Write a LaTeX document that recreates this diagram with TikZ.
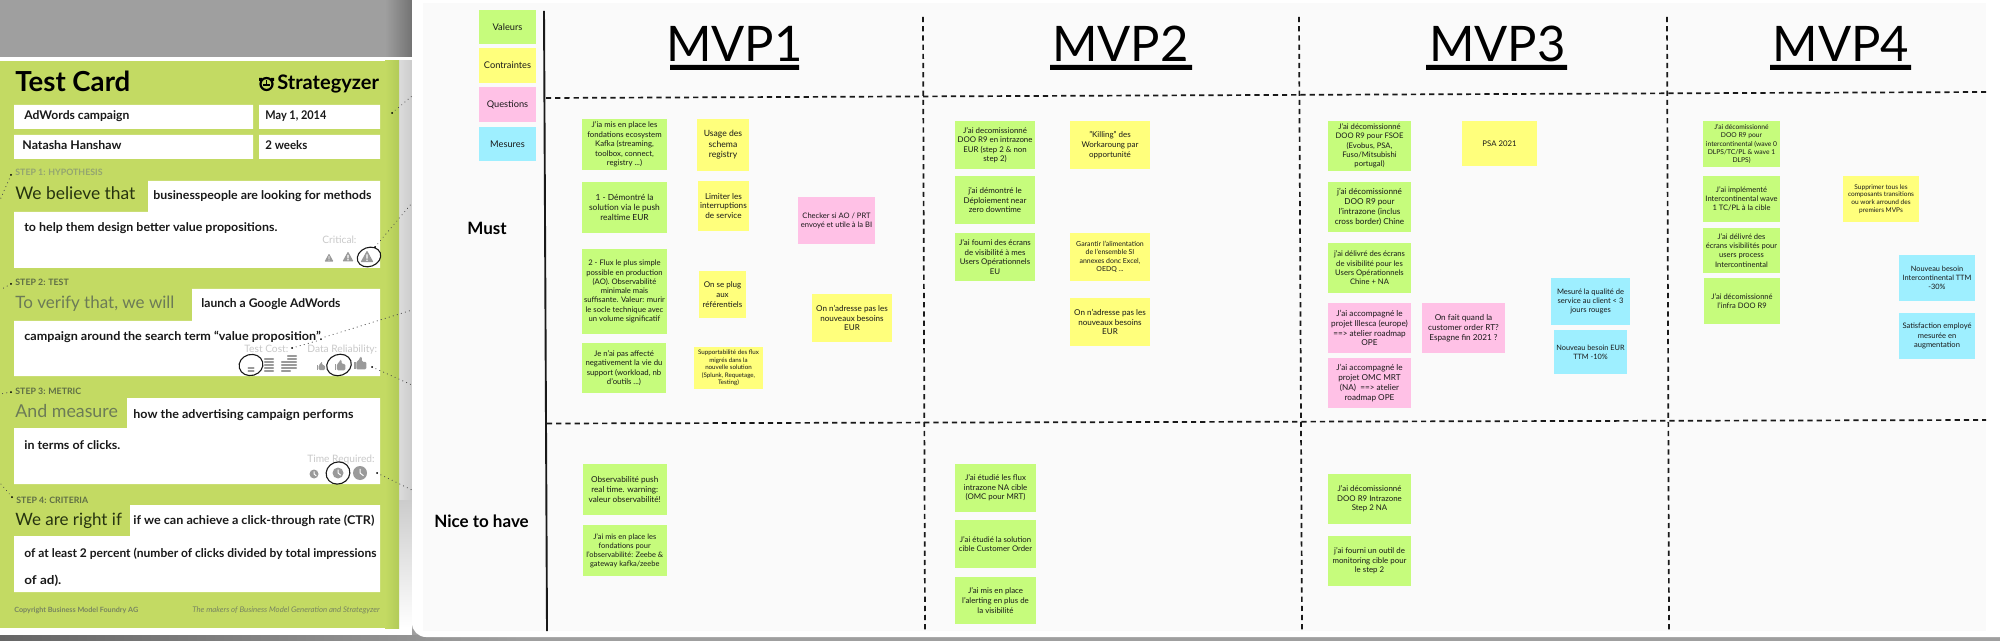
\documentclass[tikz,border=0pt]{standalone}
\usepackage{fontspec}
\usepackage{graphicx}
\setmainfont{Lato}
\usetikzlibrary{shapes.geometric,calc}
\definecolor{cardgreen}{HTML}{C3DA63}
\definecolor{cardedge}{HTML}{B2CB58}
\definecolor{bggrey}{HTML}{9F9F9F}
\definecolor{panel}{HTML}{FAFAFA}
\definecolor{gnotec}{HTML}{C6FC7C}
\definecolor{ynotec}{HTML}{FFFF7C}
\definecolor{pnotec}{HTML}{FFC1E6}
\definecolor{bnotec}{HTML}{9EEFFF}
\definecolor{iconc}{HTML}{9A9A9A}
\definecolor{lightlabel}{HTML}{C9C9C9}
\definecolor{headdark}{HTML}{26330F}
\definecolor{headsoft}{HTML}{6C7B56}
\definecolor{stepsoft}{HTML}{93A470}
\definecolor{stepdark}{HTML}{5F6E45}
\tikzset{
  notebase/.style={inner sep=0pt,outer sep=0pt,align=center,text=black!90},
  gnote/.style={notebase,fill=gnotec},
  ynote/.style={notebase,fill=ynotec},
  pnote/.style={notebase,fill=pnotec},
  bnote/.style={notebase,fill=bnotec},
  handtext/.style={anchor=base west,inner sep=0pt,text=black!90,font=\fontsize{6pt}{7pt}\selectfont\bfseries},
  stepname/.style={anchor=base west,inner sep=0pt,font=\fontsize{4.4pt}{5pt}\selectfont\bfseries},
  headtext/.style={anchor=base west,inner sep=0pt},
  smalllabel/.style={anchor=base west,inner sep=0pt,text=lightlabel,font=\fontsize{5.1pt}{6pt}\selectfont},
  title/.style={anchor=base,inner sep=0pt,text=black,font=\fontsize{24.5pt}{28pt}\selectfont},
  rowlabel/.style={inner sep=0pt,text=black,font=\fontsize{8.5pt}{10pt}\selectfont\bfseries},
  whitebox/.style={fill=white},
  dots/.style={draw=black!70,line width=0.5pt,line cap=round,dash pattern=on 0.1pt off 2pt},
  gridline/.style={draw=black!90,line width=0.85pt,dash pattern=on 2.6pt off 2pt},
  handring/.style={draw=black!90,line width=0.55pt},
}
\newcommand{\sticky}[8]{%
  \pgfmathsetlengthmacro{\stw}{(#5-#3)*0.5}%
  \pgfmathsetlengthmacro{\sth}{(#6-#4)*0.5}%
  \pgfmathsetlengthmacro{\stf}{#7*1.05}%
  \pgfmathsetlengthmacro{\stp}{#7*1.27}%
  \node[#1,minimum width=\stw,minimum height=\sth,font=\fontsize{\stf}{\stp}\selectfont]
    (#2) at ({(#3+#5)/2},{(#4+#6)/2}) {#8};}
\newcommand{\handnode}[5]{%
  \node[handtext] (#1) at (#2,#3) {\resizebox{\dimexpr #4pt/2\relax}{\height}{#5}};}
\newcommand{\warnicon}[3]{\begin{scope}[shift={(#1,#2)},scale=#3]
  \fill[iconc,rounded corners=0.4pt] (-5,4) -- (0,-5) -- (5,4) -- cycle;
  \fill[white] (-0.5,-2) rectangle (0.5,1.2) (-0.5,2) rectangle (0.5,3);
\end{scope}}
\newcommand{\coinicon}[4]{\begin{scope}[shift={(#1,#2)}]
  \foreach \cy in {1,...,#3}{
    \fill[iconc,rounded corners=0.3pt] (-#4,{-\cy*3+1.8}) rectangle (#4,{-\cy*3+0.2});
  }
\end{scope}}
\newcommand{\thumbicon}[3]{\begin{scope}[shift={(#1,#2)},scale=#3]
  \fill[iconc] (-5,-1) rectangle (-3.4,5);
  \fill[iconc,rounded corners=0.6pt] (-3,-1) -- (-1,-2) -- (0,-5) -- (1.5,-5) -- (1.5,-1) -- (5,-1) -- (5,5) -- (-3,5) -- cycle;
\end{scope}}
\newcommand{\clockicon}[3]{\begin{scope}[shift={(#1,#2)}]
  \fill[iconc] (0,0) circle (#3);
  \draw[white,line width=0.5pt] (0,{-#3*0.6}) -- (0,0) -- ({#3*0.5},{#3*0.4});
\end{scope}}
\begin{document}
\begin{tikzpicture}[x=0.5pt,y=-0.5pt]
\useasboundingbox (0,0) rectangle (2000,641);
% backdrop
\fill[bggrey] (0,0) rectangle (2000,641);
\fill[white] (0,57) rectangle (412,635);
\shade[left color=bggrey,right color=black!55] (385,0) rectangle (412,57);
\shade[left color=black!60,right color=bggrey] (0,635) rectangle (520,641);
\shade[left color=black!14,right color=black!20] (399,61) rectangle (412,500);
\shade[top color=black!20,bottom color=white] (399,500) rectangle (412,628);
% test card
\fill[cardgreen] (0,61) rectangle (399,628);
\shade[left color=cardgreen,right color=cardedge] (385,61) rectangle (399,628);
\node[anchor=base west,inner sep=0pt,text=black,font=\fontsize{13.8pt}{16pt}\selectfont\bfseries] (cardtitle) at (15,92) {Test Card};
\node[anchor=base west,inner sep=0pt,text=black,font=\fontsize{10pt}{12pt}\selectfont\bfseries] (brand) at (277,90) {Strategyzer};
\draw[black,line width=1.1pt] (266.5,84) circle (6);
\fill[black] (259,78) rectangle (262,81) (271,78) rectangle (274,81);
\draw[black,line width=0.6pt] (266.5,80) -- (266.5,84) (263,85) -- (270,85);
% header fields
\fill[whitebox] (14,105) rectangle (253,129) (259,105) rectangle (380,129);
\fill[whitebox] (14,135) rectangle (253,159) (259,135) rectangle (380,159);
\handnode{f1}{24}{120}{105}{AdWords campaign}
\handnode{f2}{265}{120}{61}{May 1, 2014}
\handnode{f3}{22}{150}{99}{Natasha Hanshaw}
\handnode{f4}{265}{150}{42}{2 weeks}
% step 1
\node[stepname,text=stepsoft] (s1) at (15,176) {STEP 1: HYPOTHESIS};
\node[headtext,text=headdark,font=\fontsize{8.7pt}{11pt}\selectfont] (h1) at (15,200) {We believe that};
\fill[whitebox] (148,181) -- (380,181) -- (380,268) -- (14,268) -- (14,212) -- (148,212) -- cycle;
\handnode{t1a}{153}{200}{218}{businesspeople are looking for methods}
\handnode{t1b}{24}{232}{253}{to help them design better value propositions.}
\node[smalllabel] (crit) at (322,244) {Critical:};
\warnicon{329}{258}{0.9}
\warnicon{348}{257}{1.1}
\warnicon{367}{257}{1.3}
\draw[handring,rotate around={20:(369,257)}] (369,257) ellipse (12 and 9.5);
% step 2
\node[stepname,text=stepdark] (s2) at (15,286) {STEP 2: TEST};
\node[headtext,text=headsoft,font=\fontsize{8.5pt}{11pt}\selectfont] (h2) at (15,309) {To verify that, we will};
\fill[whitebox] (192,289) -- (380,289) -- (380,376) -- (14,376) -- (14,321) -- (192,321) -- cycle;
\handnode{t2a}{201}{308}{139}{launch a Google AdWords}
\handnode{t2b}{24}{341}{298}{campaign around the search term “value proposition”.}
\node[smalllabel] (cost) at (244,352) {Test Cost:};
\node[smalllabel] (rel) at (307,352) {Data Reliability:};
\coinicon{251}{373}{2}{3.5}
\coinicon{269}{373}{5}{5}
\coinicon{286}{373}{4}{5}
\coinicon{292}{370}{5}{5}
\draw[handring,rotate around={15:(251,365)}] (251,365) ellipse (12 and 10.5);
\thumbicon{321}{366}{0.8}
\thumbicon{340}{365}{1.05}
\thumbicon{360}{363}{1.25}
\draw[handring,rotate around={20:(339,365)}] (339,365) ellipse (12.5 and 10.5);
% step 3
\node[stepname,text=stepdark] (s3) at (15,394) {STEP 3: METRIC};
\node[headtext,text=headsoft,font=\fontsize{8.9pt}{11pt}\selectfont] (h3) at (15,417) {And measure};
\fill[whitebox] (127,398) -- (380,398) -- (380,484) -- (14,484) -- (14,428) -- (127,428) -- cycle;
\handnode{t3a}{133}{418}{220}{how the advertising campaign performs}
\handnode{t3b}{24}{449}{96}{in terms of clicks.}
\node[smalllabel] (timelab) at (307,462) {Time Required:};
\clockicon{314}{474}{4.5}
\clockicon{338}{473}{5.5}
\clockicon{360}{473}{7}
\draw[handring,rotate around={20:(338,473)}] (338,473) ellipse (12 and 11);
% step 4
\node[stepname,text=stepdark] (s4) at (16,503) {STEP 4: CRITERIA};
\node[headtext,text=headdark,font=\fontsize{8.5pt}{11pt}\selectfont] (h4) at (15,525) {We are right if};
\fill[whitebox] (130,505) -- (380,505) -- (380,592) -- (14,592) -- (14,536) -- (130,536) -- cycle;
\handnode{t4a}{133}{524}{241}{if we can achieve a click-through rate (CTR)}
\handnode{t4b}{24}{557}{352}{of at least 2 percent (number of clicks divided by total impressions}
\handnode{t4c}{24}{584}{37}{of ad).}
\node[anchor=base west,inner sep=0pt,text=stepdark!85,font=\fontsize{3.6pt}{4pt}\selectfont\bfseries] (copy) at (14,612) {Copyright Business Model Foundry AG};
\node[anchor=base east,inner sep=0pt,text=stepdark!85,font=\fontsize{3.9pt}{5pt}\selectfont\itshape] (makers) at (380,612) {The makers of Business Model Generation and Strategyzer};
% dotted leaders
\coordinate (d1a) at (11,175); \coordinate (d1b) at (0,200);
\coordinate (d2a) at (11,284); \coordinate (d2b) at (0,290);
\coordinate (d3a) at (11,392); \coordinate (d3b) at (0,394);
\coordinate (d4a) at (12,497); \coordinate (d4b) at (0,483);
\coordinate (d5a) at (392,113); \coordinate (d5b) at (412,96);
\coordinate (d6a) at (375,247); \coordinate (d6b) at (412,203);
\coordinate (d7a) at (325,337); \coordinate (d7b) at (412,310);
\coordinate (d8a) at (292,348); \coordinate (d8b) at (320,340);
\coordinate (d9a) at (372,367); \coordinate (d9b) at (412,385);
\coordinate (d10a) at (377,473); \coordinate (d10b) at (412,490);
\foreach \k in {1,...,10}{
  \draw[dots] (d\k a) -- (d\k b);
}
\foreach \k in {1,2,3,4,5,6,8,9,10}{
  \fill[black] (d\k a) circle (1);
}
% board
\fill[white,rounded corners=7pt] (412,-20) rectangle (2030,637);
\fill[white] (412,-20) rectangle (2000,600);
\fill[panel] (423,3) rectangle (1986,631);
\draw[black!90,line width=0.95pt] (544,11) -- (547,631);
% titles
\node[title] (mvp1) at (734.5,62) {MVP1};
\node[title] (mvp2) at (1120.5,62) {MVP2};
\node[title] (mvp3) at (1497.5,62) {MVP3};
\node[title] (mvp4) at (1841,62) {MVP4};
\fill[black] (670,65) rectangle (799,70) (1050,65) rectangle (1192,70) (1426,65) rectangle (1567,70) (1770,65) rectangle (1911,70);
% grid
\coordinate (hl1) at (546,98); \coordinate (hr1) at (1986,92);
\coordinate (hl2) at (547,423.5); \coordinate (hr2) at (1986,420);
\coordinate (v1t) at (923,17); \coordinate (v1b) at (925,631);
\coordinate (v2t) at (1299,17); \coordinate (v2b) at (1302,631);
\coordinate (v3t) at (1667,17); \coordinate (v3b) at (1669,631);
\draw[gridline] (hl1) -- (hr1);
\draw[gridline] (hl2) -- (hr2);
\draw[gridline] (v1t) -- (v1b);
\draw[gridline] (v2t) -- (v2b);
\draw[gridline] (v3t) -- (v3b);
\node[rowlabel] (must) at (487,228) {Must};
\node[rowlabel] (nice) at (481.5,521) {Nice to have};
% legend
\sticky{gnote}{lg}{479}{10}{536}{44}{4.4}{Valeurs}
\sticky{ynote}{ly}{479}{48}{536}{83}{4.4}{Contraintes}
\sticky{pnote}{lp}{479}{87}{536}{122}{4.4}{Questions}
\sticky{bnote}{lb}{479}{127}{536}{161}{4.4}{Mesures}
% MVP1
\sticky{gnote}{a1}{582}{119}{667}{170}{3.7}{J'ia mis en place les\\fondations ecosystem\\Kafka (streaming,\\toolbox, connect,\\registry ...)}
\sticky{gnote}{a2}{582}{182}{667}{233}{4}{1 - Démontré la\\solution via le push\\realtime EUR}
\sticky{gnote}{a3}{582}{249}{667}{334}{3.65}{2 - Flux le plus simple\\possible en production\\(AO). Observabilité\\minimale mais\\suffisante. Valeur: murir\\le socle technique avec\\un volume significatif}
\sticky{gnote}{a4}{582}{343}{666}{393}{3.7}{Je n'ai pas affecté\\negativement la vie du\\support (workload, nb\\d'outils ...)}
\sticky{ynote}{a5}{697}{119}{749}{171}{4.1}{Usage des\\schema\\registry}
\sticky{ynote}{a6}{698}{181}{749}{231}{3.9}{Limiter les\\interruptions\\de service}
\sticky{ynote}{a7}{699}{271}{746}{318}{3.8}{On se plug\\aux\\référentiels}
\sticky{ynote}{a8}{694}{347}{763}{389}{2.95}{Supportabilité des flux\\migrés dans la\\nouvelle solution\\(Splunk, Requetage,\\Testing)}
\sticky{pnote}{a9}{798}{197}{875}{244}{3.6}{Checker si AO / PRT\\envoyé et utile à la BI}
\sticky{ynote}{a10}{812}{294}{892}{342}{3.85}{On n'adresse pas les\\nouveaux besoins\\EUR}
% MVP2
\sticky{gnote}{b1}{955}{121}{1035}{169}{3.75}{J'ai decomissionné\\DOO R9 en intrazone\\EUR (step 2 \& non\\step 2)}
\sticky{gnote}{b2}{955}{176}{1035}{224}{3.8}{j'ai démontré le\\Déploiement near\\zero downtime}
\sticky{gnote}{b3}{955}{233}{1035}{281}{3.75}{J'ai fourni des écrans\\de visibilité à mes\\Users Opérationnels\\EU}
\sticky{ynote}{b4}{1070}{121}{1150}{169}{3.8}{"Killing" des\\Workaroung par\\opportunité}
\sticky{ynote}{b5}{1070}{233}{1150}{281}{3.3}{Garantir l'alimentation\\de l'ensemble SI\\annexes donc Excel,\\OEDQ ...}
\sticky{ynote}{b6}{1070}{298}{1150}{346}{3.85}{On n'adresse pas les\\nouveaux besoins\\EUR}
% MVP3
\sticky{gnote}{c1}{1328}{121}{1411}{171}{3.65}{J'ai décomissionné\\DOO R9 pour FSOE\\(Evobus, PSA,\\Fuso/Mitsubishi\\portugal)}
\sticky{gnote}{c2}{1328}{182}{1411}{232}{3.9}{j'ai décomissionné\\DOO R9 pour\\l'intrazone (inclus\\cross border) Chine}
\sticky{gnote}{c3}{1328}{243}{1411}{293}{3.65}{j'ai délivré des écrans\\de visibilité pour les\\Users Opérationnels\\Chine + NA}
\sticky{pnote}{c4}{1328}{303}{1411}{353}{3.9}{J'ai accompagné le\\projet Illesca (europe)\\==> atelier roadmap\\OPE}
\sticky{pnote}{c5}{1328}{358}{1411}{408}{3.9}{J'ai accompagné le\\projet OMC MRT\\(NA)\ \ ==> atelier\\roadmap OPE}
\sticky{pnote}{c6}{1422}{303}{1505}{353}{3.9}{On fait quand la\\customer order RT?\\Espagne fin 2021 ?}
\sticky{ynote}{c7}{1462}{121}{1537}{166}{3.7}{PSA 2021}
\sticky{bnote}{c8}{1551}{278}{1630}{325}{3.6}{Mesuré la qualité de\\service au client < 3\\jours rouges}
\sticky{bnote}{c9}{1554}{330}{1627}{374}{3.5}{Nouveau besoin EUR\\TTM -10\%}
% MVP4
\sticky{gnote}{e1}{1703}{121}{1780}{167}{3.2}{J'ai décomissionné\\DOO R9 pour\\intercontinental (wave 0\\DLPS/TC/PL \& wave 1\\DLPS)}
\sticky{gnote}{e2}{1703}{176}{1780}{222}{3.6}{J'ai implémenté\\Intercontinental wave\\1 TC/PL à la cible}
\sticky{gnote}{e3}{1703}{228}{1780}{273}{3.6}{J'ai délivré des\\écrans visibilités pour\\users process\\Intercontinental}
\sticky{gnote}{e4}{1704}{278}{1780}{324}{3.6}{J'ai décomissionné\\l'infra DOO R9}
\sticky{ynote}{e5}{1843}{176}{1919}{222}{3.1}{Supprimer tous les\\composants transitions\\ou work arround des\\premiers MVPs}
\sticky{bnote}{e6}{1899}{255}{1975}{301}{3.5}{Nouveau besoin\\Intercontinental TTM\\-30\%}
\sticky{bnote}{e7}{1899}{313}{1975}{359}{3.6}{Satisfaction employé\\mesurée en\\augmentation}
% nice to have
\sticky{gnote}{n1}{582.5}{464}{667}{515}{3.9}{Observabilité push\\real time. warning:\\valeur observabilité!}
\sticky{gnote}{n2}{582.5}{525}{667}{576}{3.55}{J'ai mis en place les\\fondations pour\\l'observabilité: Zeebe \&\\gateway kafka/zeebe}
\sticky{gnote}{n3}{955}{464}{1036}{512}{3.75}{J'ai étudié les flux\\intrazone NA cible\\(OMC pour MRT)}
\sticky{gnote}{n4}{955}{520}{1036}{568}{3.7}{J'ai étudié la solution\\cible Customer Order}
\sticky{gnote}{n5}{955}{577}{1036}{624}{3.75}{J'ai mis en place\\l'alerting en plus de\\la visibilité}
\sticky{gnote}{n6}{1328}{474}{1411}{524}{3.75}{J'ai décomissionné\\DOO R9 Intrazone\\Step 2 NA}
\sticky{gnote}{n7}{1328}{536}{1411}{586}{3.75}{j'ai fourni un outil de\\monitoring cible pour\\le step 2}
\end{tikzpicture}
\end{document}
